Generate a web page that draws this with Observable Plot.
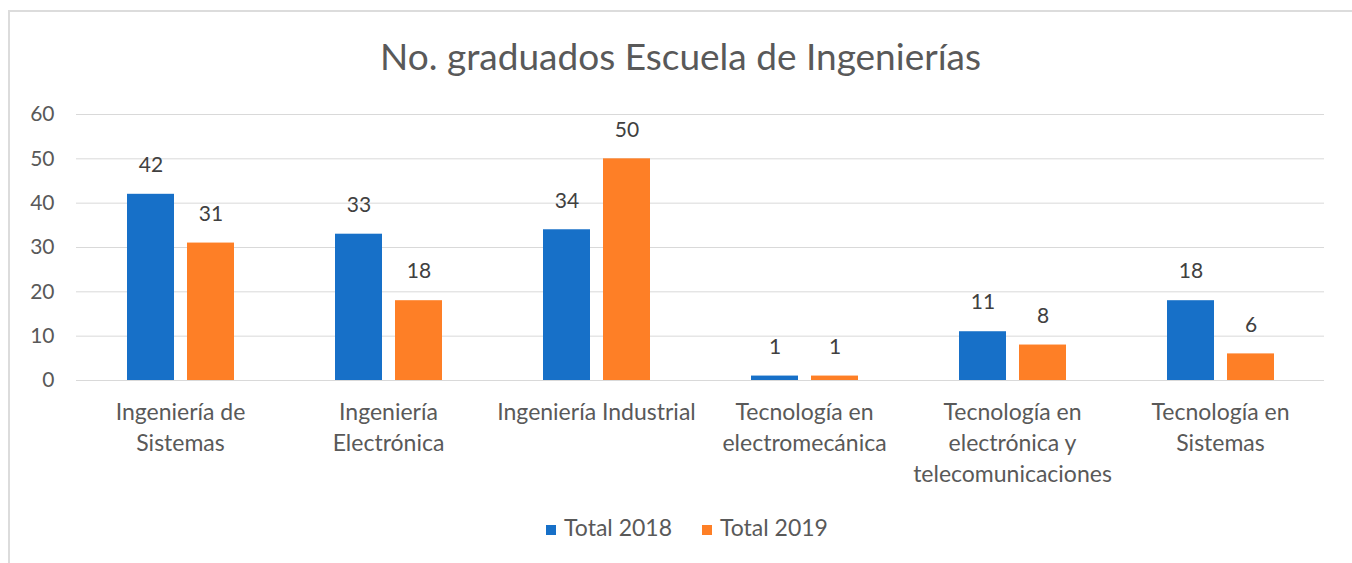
<!DOCTYPE html>
<html>
<head>
<meta charset="utf-8">
<script src="https://cdn.jsdelivr.net/npm/d3@7"></script>
<script src="https://cdn.jsdelivr.net/npm/@observablehq/plot@0.6"></script>
<style>
  html, body { margin: 0; padding: 0; background: #fff; }
  body { width: 1352px; height: 563px; position: relative; overflow: hidden; font-family: Lato, "Open Sans", sans-serif; }
  #frame { position: absolute; left: 8px; top: 10px; width: 1400px; height: 600px; border-left: 2px solid #dcdcdc; border-top: 2px solid #dcdcdc; }
  #title { position: absolute; left: 0; top: 36px; width: 1361px; text-align: center; font-size: 37px; line-height: 40px; color: #595959; }
  #chart { position: absolute; left: 0; top: 95px; }
  #legend { position: absolute; left: 0; top: 514px; width: 1374px; text-align: center; font-size: 23px; line-height: 26px; color: #595959; }
  .item { display: inline-block; margin: 0 15px; }
  .sw { display: inline-block; width: 10px; height: 10px; margin-right: 8px; vertical-align: 1px; }
</style>
</head>
<body>
<div id="frame"></div>
<div id="title">No. graduados Escuela de Ingenierías</div>
<div id="chart"></div>
<div id="legend"></div>
<script>
const categories = ["Ingeniería de Sistemas", "Ingeniería Electrónica", "Ingeniería Industrial", "Tecnología en electromecánica", "Tecnología en electrónica y telecomunicaciones", "Tecnología en Sistemas"];
const tickLabels = ["Ingeniería de\nSistemas", "Ingeniería\nElectrónica", "Ingeniería Industrial", "Tecnología en\nelectromecánica", "Tecnología en\nelectrónica y\ntelecomunicaciones", "Tecnología en\nSistemas"];
const series = ["Total 2018", "Total 2019"];
const total2018 = [42, 33, 34, 1, 11, 18];
const total2019 = [31, 18, 50, 1, 8, 6];
const yTicks = [0, 10, 20, 30, 40, 50, 60];
const colors = ["#1770c8", "#fe7f26"];

const data = categories.flatMap((c, i) => [
  {category: c, series: series[0], value: total2018[i]},
  {category: c, series: series[1], value: total2019[i]}
]);

const chart = Plot.plot({
  width: 1352,
  height: 395,
  marginTop: 19,
  marginBottom: 110,
  marginLeft: 74,
  marginRight: 27,
  style: {fontFamily: "Lato, 'Open Sans', sans-serif", fontSize: "21px", background: "transparent", overflow: "visible"},
  fx: {domain: categories, padding: 0, label: null},
  x: {domain: series, paddingInner: 0.217, paddingOuter: 0.84, axis: null},
  y: {domain: [0, 60], label: null},
  color: {domain: series, range: colors},
  marks: [
    Plot.ruleY(yTicks, {stroke: "#d9d9d9", strokeOpacity: 1}),
    Plot.barY(data, {fx: "category", x: "series", y: "value", fill: "series"}),
    Plot.text(data, {fx: "category", x: "series", y: "value", text: d => String(d.value), dy: -29, fill: "#404040", fontSize: 21}),
    Plot.axisY({ticks: yTicks, tickSize: 0, tickPadding: 22, label: null, fill: "#595959", fontSize: 21}),
    Plot.axisFx({anchor: "bottom", tickSize: 0, tickPadding: 17, label: null, lineHeight: 1.35, fill: "#595959", fontSize: 23,
      tickFormat: c => tickLabels[categories.indexOf(c)]})
  ]
});
document.getElementById("chart").appendChild(chart);

const legend = document.getElementById("legend");
series.forEach((s, i) => {
  const item = document.createElement("span");
  item.className = "item";
  const sw = document.createElement("span");
  sw.className = "sw";
  sw.style.background = colors[i];
  item.appendChild(sw);
  item.appendChild(document.createTextNode(s));
  legend.appendChild(item);
});
</script>
</body>
</html>
